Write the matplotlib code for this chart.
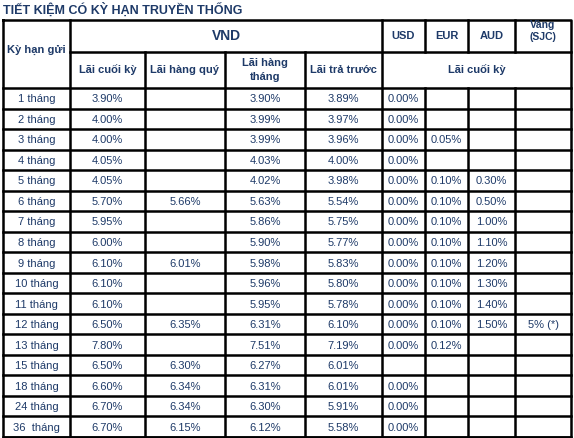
import matplotlib.pyplot as plt

plt.rcParams['font.family'] = ['Liberation Sans', 'DejaVu Sans']

terms = ["1 tháng", "2 tháng", "3 tháng", "4 tháng", "5 tháng", "6 tháng", "7 tháng",
         "8 tháng", "9 tháng", "10 tháng", "11 tháng", "12 tháng", "13 tháng",
         "15 tháng", "18 tháng", "24 tháng", "36  tháng"]
vnd_cuoi_ky = ["3.90%", "4.00%", "4.00%", "4.05%", "4.05%", "5.70%", "5.95%", "6.00%", "6.10%",
               "6.10%", "6.10%", "6.50%", "7.80%", "6.50%", "6.60%", "6.70%", "6.70%"]
vnd_hang_quy = ["", "", "", "", "", "5.66%", "", "", "6.01%", "", "", "6.35%", "",
                "6.30%", "6.34%", "6.34%", "6.15%"]
vnd_hang_thang = ["3.90%", "3.99%", "3.99%", "4.03%", "4.02%", "5.63%", "5.86%", "5.90%", "5.98%",
                  "5.96%", "5.95%", "6.31%", "7.51%", "6.27%", "6.31%", "6.30%", "6.12%"]
vnd_tra_truoc = ["3.89%", "3.97%", "3.96%", "4.00%", "3.98%", "5.54%", "5.75%", "5.77%", "5.83%",
                 "5.80%", "5.78%", "6.10%", "7.19%", "6.01%", "6.01%", "5.91%", "5.58%"]
usd = ["0.00%"] * 13 + ["", "0.00%", "0.00%", "0.00%"]
eur = ["", "", "0.05%", "", "0.10%", "0.10%", "0.10%", "0.10%", "0.10%", "0.10%", "0.10%",
       "0.10%", "0.12%", "", "", "", ""]
aud = ["", "", "", "", "0.30%", "0.50%", "1.00%", "1.10%", "1.20%", "1.30%", "1.40%",
       "1.50%", "", "", "", "", ""]
vang = [""] * 11 + ["5% (*)"] + [""] * 5

cols = [terms, vnd_cuoi_ky, vnd_hang_quy, vnd_hang_thang, vnd_tra_truoc, usd, eur, aud, vang]
xs = [3, 70, 145, 225, 305, 382, 425, 468, 515, 571]
top, h1, h2, bottom = 20, 52, 88, 437
txt = "#1e3a68"

fig = plt.figure(figsize=(5.74, 4.38), dpi=100)
ax = fig.add_axes([0, 0, 1, 1])
ax.set_xlim(0, 574)
ax.set_ylim(438, 0)
ax.axis("off")

ax.text(3, 10, "TIẾT KIỆM CÓ KỲ HẠN TRUYỀN THỐNG", fontsize=9, fontweight="bold",
        color=txt, va="center", ha="left")

n = len(terms)
rh = (bottom - h2) / n
lw = 1.8
k = dict(color="black", lw=lw, solid_capstyle="projecting")
# outer frame and header lines
ax.plot([xs[0], xs[-1], xs[-1], xs[0], xs[0]], [top, top, bottom, bottom, top], **k)
ax.plot([xs[1], xs[-1]], [h1, h1], **k)
for i in range(n + 1):
    y = h2 + i * rh
    ax.plot([xs[0], xs[-1]], [y, y], **k)
for j, x in enumerate(xs[1:-1], 1):
    if j in (2, 3, 4):
        ax.plot([x, x], [h1, bottom], **k)
    elif j in (6, 7, 8):
        ax.plot([x, x], [top, h1], **k)
        ax.plot([x, x], [h2, bottom], **k)
    else:
        ax.plot([x, x], [top, bottom], **k)

hb = dict(fontsize=8, fontweight="bold", color=txt, ha="center", va="center")
ax.text((xs[0] + xs[1]) / 2, (top + h2) / 2 - 4, "Kỳ hạn gửi", **hb)
ax.text((xs[1] + xs[5]) / 2, (top + h1) / 2, "VND", fontsize=10, fontweight="bold",
        color=txt, ha="center", va="center")
for lab, j in [("USD", 5), ("EUR", 6), ("AUD", 7)]:
    ax.text((xs[j] + xs[j + 1]) / 2, (top + h1) / 2, lab, **hb)
ax.text((xs[8] + xs[9]) / 2, top + 11, "Vàng\n(SJC)", fontsize=7.5, fontweight="bold",
        color=txt, ha="center", va="center", linespacing=1.3, clip_on=True)
for lab, j in [("Lãi cuối kỳ", 1), ("Lãi hàng quý", 2), ("Lãi hàng\ntháng", 3), ("Lãi trả trước", 4)]:
    ax.text((xs[j] + xs[j + 1]) / 2, (h1 + h2) / 2, lab, linespacing=1.4, **hb)
ax.text((xs[5] + xs[9]) / 2, (h1 + h2) / 2, "Lãi cuối kỳ", **hb)

for j, col in enumerate(cols):
    cx = (xs[j] + xs[j + 1]) / 2
    for i, v in enumerate(col):
        ax.text(cx, h2 + (i + 0.55) * rh, v, fontsize=8, color=txt, ha="center", va="center")

fig.savefig("out.png", dpi=100)
